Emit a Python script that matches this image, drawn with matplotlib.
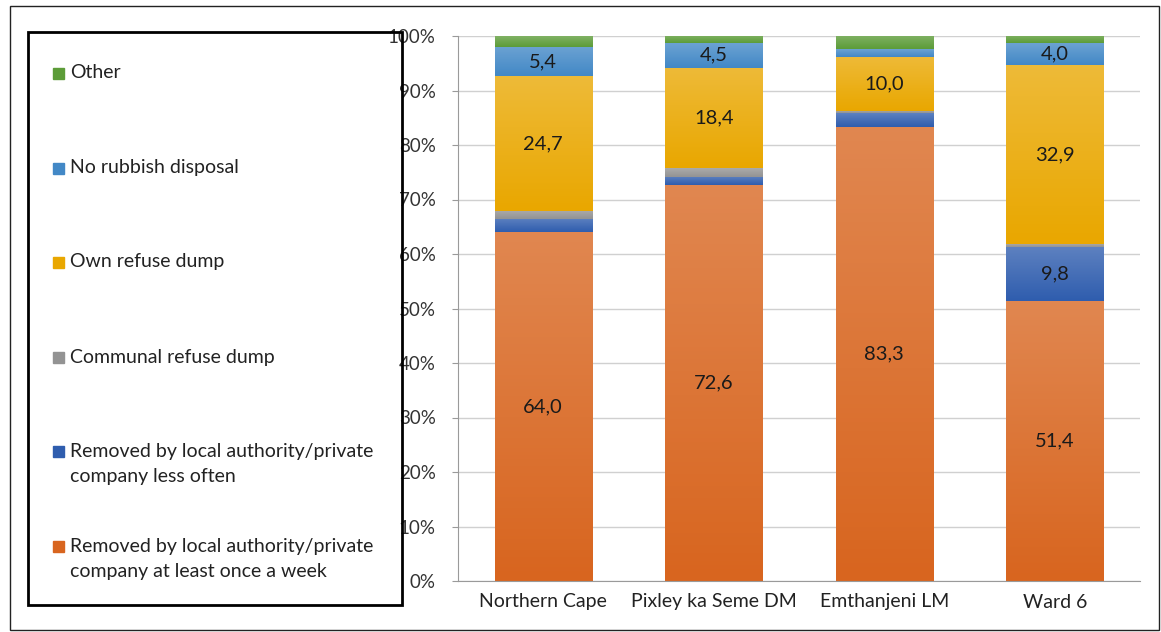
import numpy as np
import matplotlib
matplotlib.use('Agg')
import matplotlib.pyplot as plt
from matplotlib.colors import LinearSegmentedColormap, to_rgb
from matplotlib.patches import Rectangle

plt.rcParams['font.family'] = ['Lato', 'DejaVu Sans']

# Data (percent of households)
areas = ['Northern Cape', 'Pixley ka Seme DM', 'Emthanjeni LM', 'Ward 6']
weekly = [64.0, 72.6, 83.3, 51.4]
less_often = [2.4, 1.6, 2.5, 9.8]
communal = [1.5, 1.6, 0.4, 0.6]
own_dump = [24.7, 18.4, 10.0, 32.9]
no_disposal = [5.4, 4.5, 1.4, 4.0]
other = [2.0, 1.3, 2.4, 1.3]

series = [
    ('Removed by local authority/private\ncompany at least once a week', weekly, '#D8651F'),
    ('Removed by local authority/private\ncompany less often', less_often, '#2F5DAE'),
    ('Communal refuse dump', communal, '#939393'),
    ('Own refuse dump', own_dump, '#E9A700'),
    ('No rubbish disposal', no_disposal, '#4288C6'),
    ('Other', other, '#5C9C38'),
]

fig = plt.figure(figsize=(11.61, 6.32), dpi=100)
ax = fig.add_axes([458 / 1161, 1 - 581 / 632, (1140 - 458) / 1161, (581 - 36) / 632])

x = np.arange(len(areas))
width = 0.57
bottom = np.zeros(len(areas))


def lighten(c, f):
    r = np.array(to_rgb(c))
    return tuple(r + (1 - r) * f)


for name, vals, col in series:
    vals = np.array(vals)
    bars = ax.bar(x, vals, width, bottom=bottom, color=col, zorder=2)
    cmap = LinearSegmentedColormap.from_list('g', [col, lighten(col, 0.22)])
    grad = np.linspace(0, 1, 100).reshape(-1, 1)
    for b in bars:
        bx, by, bw, bh = b.get_x(), b.get_y(), b.get_width(), b.get_height()
        ax.imshow(grad, cmap=cmap, extent=[bx, bx + bw, by, by + bh],
                  origin='lower', aspect='auto', zorder=2.5)
    for xi, v, b0 in zip(x, vals, bottom):
        if v >= 3.5:
            ax.text(xi, b0 + v / 2, f'{v:.1f}'.replace('.', ','), ha='center',
                    va='center', fontsize=14.5, color='#1a1a1a', zorder=4)
    bottom += vals

ax.set_xlim(-0.5, len(areas) - 0.5)
ax.set_ylim(0, 100)
ax.set_yticks(np.arange(0, 101, 10))
ax.set_yticklabels([f'{v}%' for v in range(0, 101, 10)], fontsize=13.5, color='#333333')
ax.set_xticks(x)
ax.set_xticklabels(areas, fontsize=14, color='#222222')
ax.tick_params(axis='x', length=0, pad=9)
ax.tick_params(axis='y', length=4, color='#9a9a9a', pad=12)
ax.grid(axis='y', color='#d0d0d0', linewidth=1, zorder=0)
ax.set_axisbelow(True)
for s in ['top', 'right']:
    ax.spines[s].set_visible(False)
for s in ['left', 'bottom']:
    ax.spines[s].set_color('#9a9a9a')

# outer chart border
fig.patches.append(Rectangle((10 / 1161, 2 / 632), 1149 / 1161, 624 / 632,
                             transform=fig.transFigure, fill=False,
                             edgecolor='#222222', linewidth=1))

# legend box
fig.patches.append(Rectangle((28 / 1161, 1 - 605 / 632), 374 / 1161, 573 / 632,
                             transform=fig.transFigure, fill=False,
                             edgecolor='black', linewidth=2, zorder=5))
legend_y = [559, 464, 357, 262, 168, 73]
first_line = [546, 451, 357, 262, 168, 73]
for (name, vals, col), yc, y1 in zip(series, legend_y, first_line):
    fig.patches.append(Rectangle((53 / 1161, 1 - (y1 + 6) / 632), 11 / 1161, 11 / 632,
                                 transform=fig.transFigure, color=col))
    fig.text(70 / 1161, 1 - yc / 632, name, ha='left', va='center',
             fontsize=14, color='#222222', linespacing=1.55)

fig.savefig('out.png', dpi=100)
